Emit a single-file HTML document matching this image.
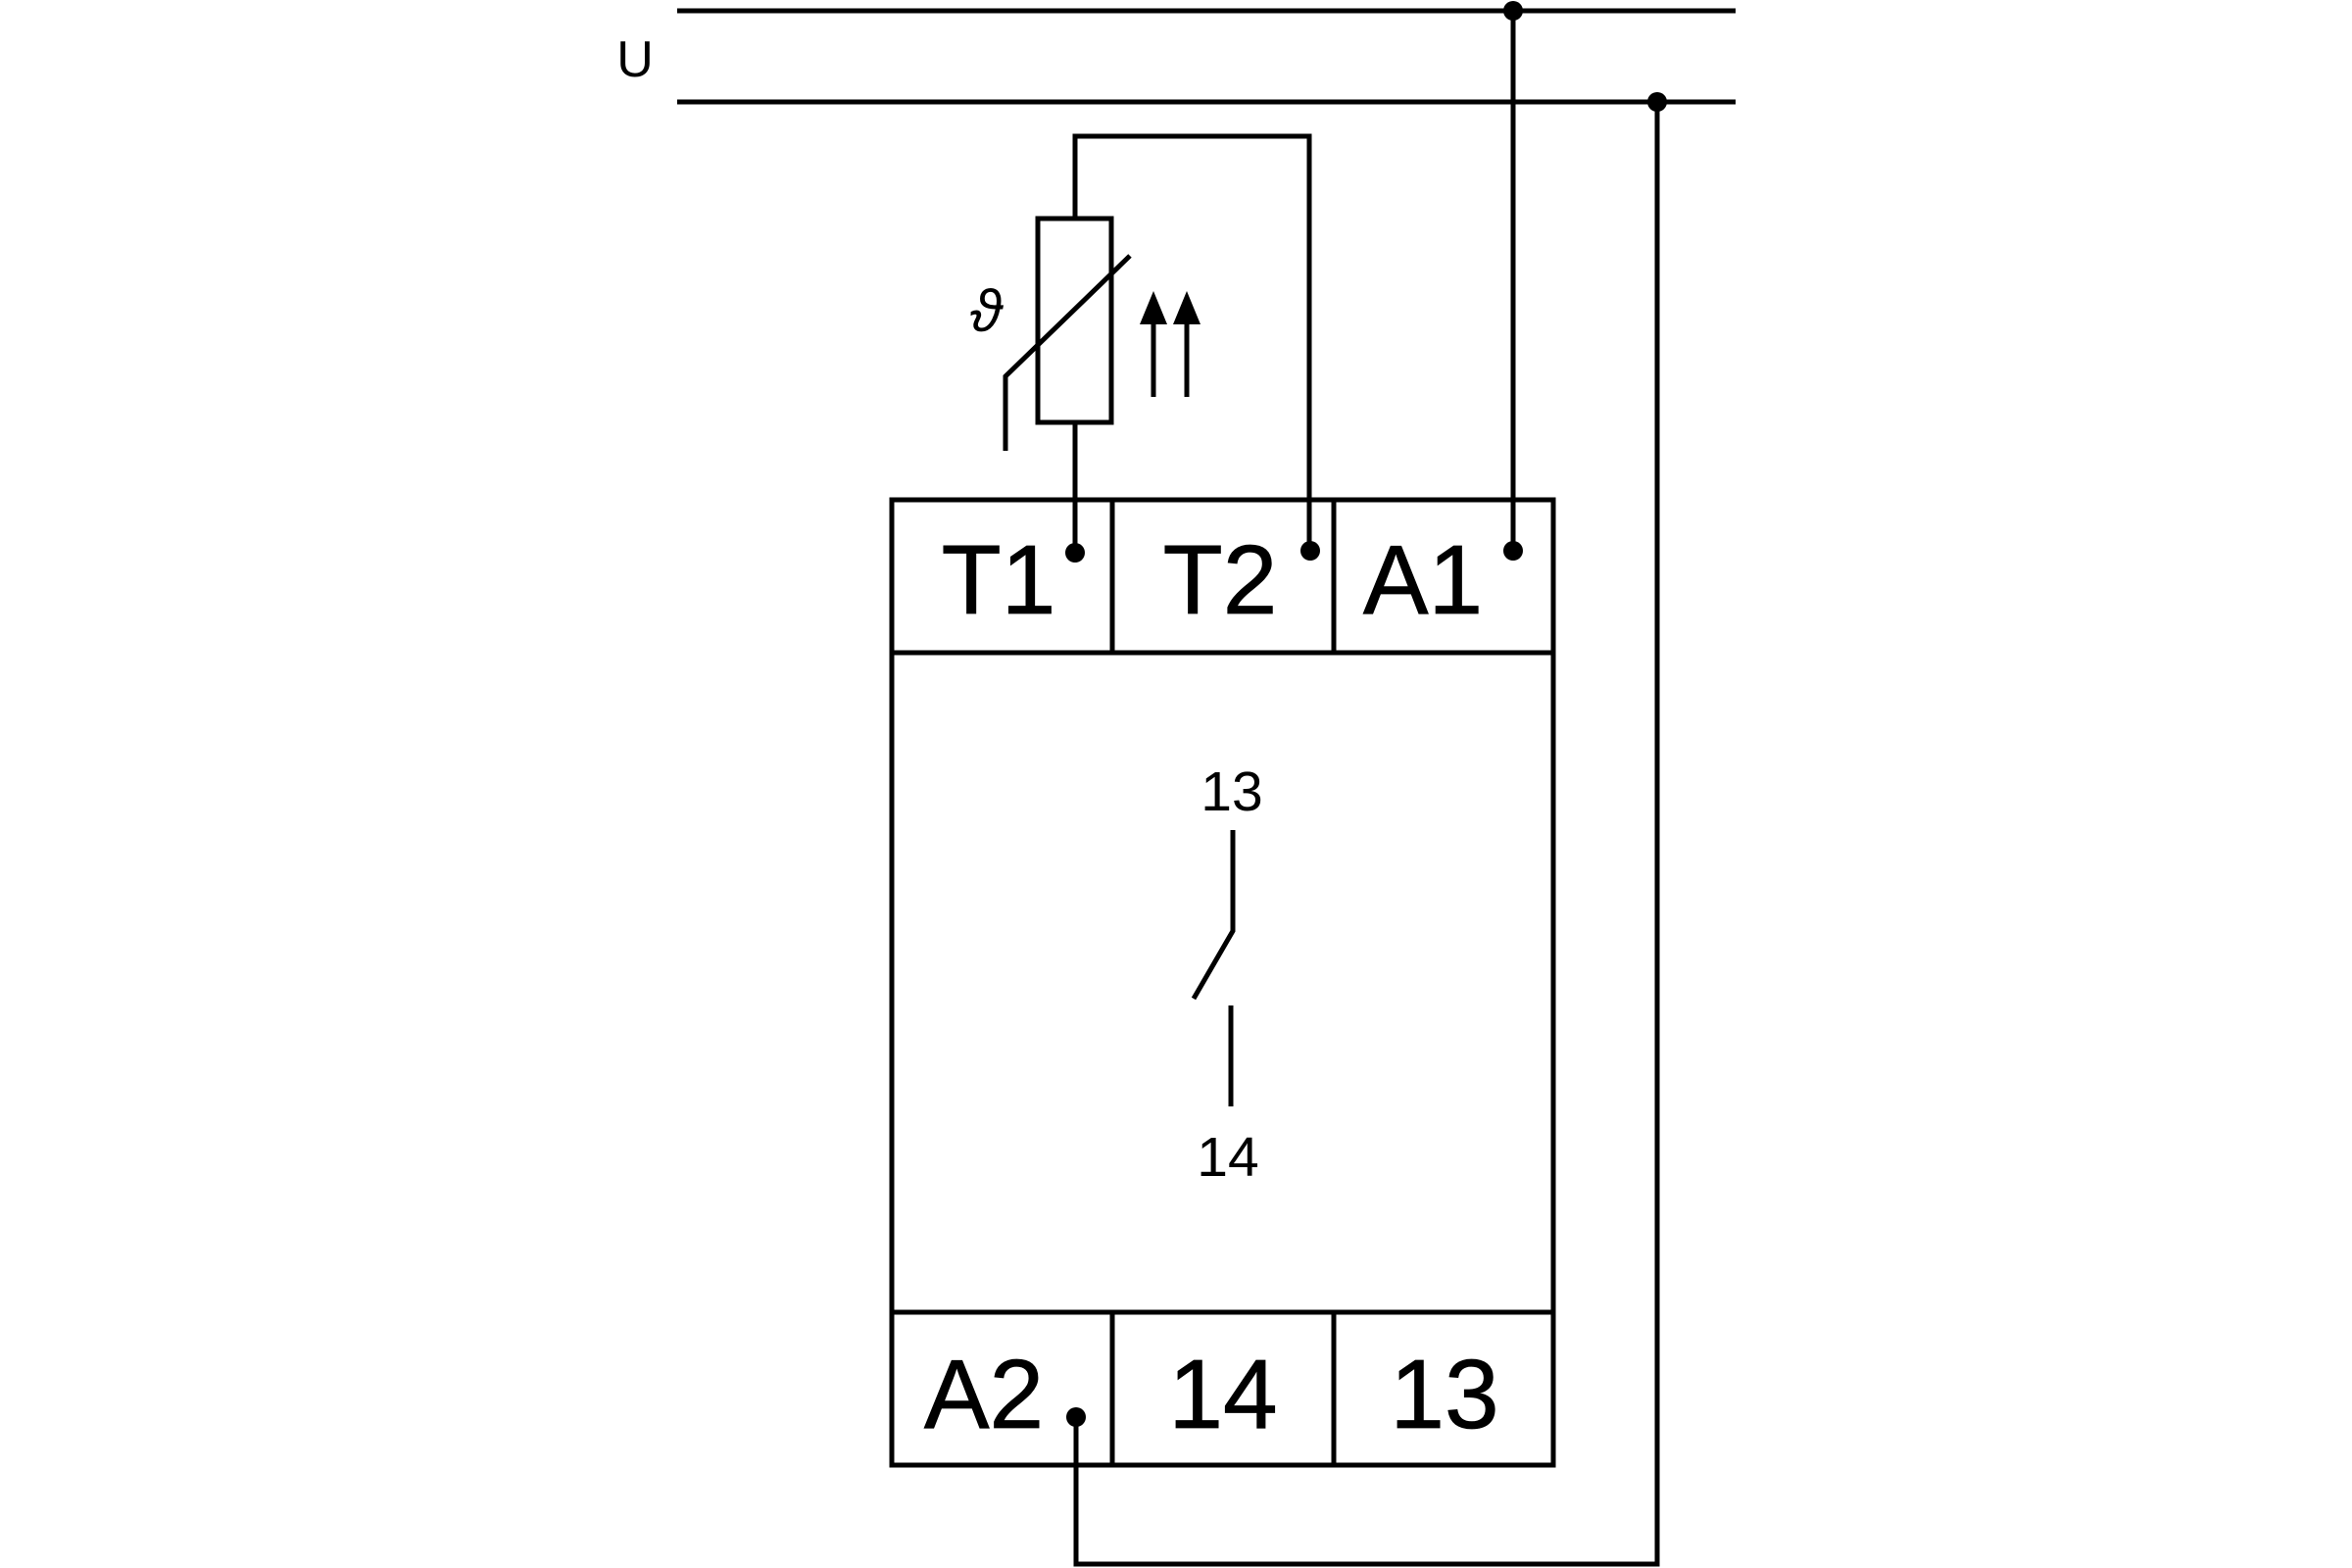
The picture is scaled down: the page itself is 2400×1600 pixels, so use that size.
<!DOCTYPE html>
<html><head><meta charset="utf-8"><style>
html,body{margin:0;padding:0;background:#fff;}
svg{display:block;}
text{font-family:"Liberation Sans",sans-serif;fill:#000;}
</style></head><body>
<svg width="2400" height="1600" viewBox="0 0 2400 1600" xmlns="http://www.w3.org/2000/svg">
<g stroke="#000" stroke-width="5" fill="none">
<line x1="691" y1="11" x2="1771" y2="11"/>
<line x1="691" y1="104" x2="1771" y2="104"/>
<line x1="1544" y1="11" x2="1544" y2="562"/>
<polyline points="1691,104 1691,1596 1098,1596 1098,1446"/>
<polyline points="1097,564 1097,431"/>
<polyline points="1097,223 1097,139 1336,139 1336,562"/>
<rect x="1059" y="223" width="75" height="208"/>
<polyline points="1026,460 1026,384 1153,261"/>
<line x1="1177" y1="405" x2="1177" y2="320"/>
<line x1="1211" y1="405" x2="1211" y2="320"/>
<rect x="910" y="510" width="675" height="985"/>
<line x1="910" y1="666" x2="1585" y2="666"/>
<line x1="910" y1="1339" x2="1585" y2="1339"/>
<line x1="1135" y1="510" x2="1135" y2="666"/>
<line x1="1361" y1="510" x2="1361" y2="666"/>
<line x1="1135" y1="1339" x2="1135" y2="1495"/>
<line x1="1361" y1="1339" x2="1361" y2="1495"/>
<polyline points="1258,847 1258,950 1218,1019"/>
<line x1="1256" y1="1026" x2="1256" y2="1129"/>
</g>
<g fill="#000">
<polygon points="1177,297 1163,331 1191,331"/>
<polygon points="1211,297 1197,331 1225,331"/>
<circle cx="1544" cy="11" r="10"/>
<circle cx="1691" cy="104" r="10"/>
<circle cx="1097" cy="564" r="10"/>
<circle cx="1337" cy="562" r="10"/>
<circle cx="1544" cy="562" r="10"/>
<circle cx="1098" cy="1446" r="10"/>
</g>
<text x="648" y="78" font-size="52" text-anchor="middle">U</text>
<text x="1006" y="338" font-size="60" font-style="italic" font-family="Liberation Serif,serif" text-anchor="middle">ϑ</text>
<g font-size="100" text-anchor="middle" stroke="#000" stroke-width="0.8">
<text x="1019" y="626">T1</text>
<text x="1245" y="626">T2</text>
<text x="1452" y="626">A1</text>
<text x="1004" y="1457">A2</text>
<text x="1248" y="1457">14</text>
<text x="1474" y="1457">13</text>
</g>
<text x="1257" y="827" font-size="57" text-anchor="middle">13</text>
<text x="1253" y="1200" font-size="57" text-anchor="middle">14</text>
</svg>
</body></html>
